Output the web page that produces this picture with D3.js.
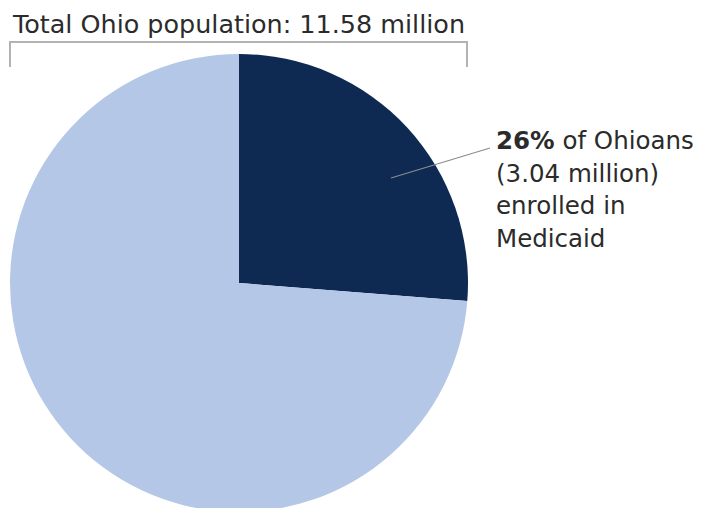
<!DOCTYPE html>
<html>
<head>
<meta charset="utf-8">
<script src="https://cdn.jsdelivr.net/npm/d3@7"></script>
<style>
  html, body { margin: 0; padding: 0; background: #fff; }
  svg { display: block; }
  text { font-family: "DejaVu Sans", "Noto Sans", sans-serif; fill: #2b2b2b; }
</style>
</head>
<body>
<svg id="chart" width="715" height="508"></svg>
<script>
// Ohio population split by Medicaid enrollment (millions)
const categories = ["Enrolled in Medicaid", "Not enrolled"];
const populationMillions = [3.04, 8.54];
const colors = ["#0f2a52", "#b4c7e6"];
const titleText = "Total Ohio population: 11.58 million";
const labelLines = [["26%", " of Ohioans"], ["(3.04 million)"], ["enrolled in"], ["Medicaid"]];

const svg = d3.select("#chart");
const cx = 239, cy = 283, radius = 229;

const pie = d3.pie().sort(null).value(d => d.value);
const arcs = pie(categories.map((c, i) => ({ name: c, value: populationMillions[i] })));
const arc = d3.arc().innerRadius(0).outerRadius(radius);

const g = svg.append("g").attr("transform", `translate(${cx},${cy})`);
g.selectAll("path")
  .data(arcs)
  .join("path")
  .attr("d", arc)
  .attr("fill", (d, i) => colors[i]);

// Leader line from inside the Medicaid slice to its label
svg.append("line")
  .attr("x1", 391).attr("y1", 178)
  .attr("x2", 490).attr("y2", 148)
  .attr("stroke", "#8c8c8c").attr("stroke-width", 1.2);

// Slice label
const label = svg.append("text").attr("font-size", 24.5);
labelLines.forEach((parts, i) => {
  parts.forEach((p, j) => {
    const t = label.append("tspan").text(p)
      .attr("font-weight", i === 0 && j === 0 ? "bold" : "normal");
    if (j === 0) t.attr("x", 496).attr("y", 149 + i * 32.7);
  });
});

// Bracket spanning the full pie
svg.append("path")
  .attr("d", `M${cx - radius},67 V42 H${cx + radius - 1} V67`)
  .attr("fill", "none").attr("stroke", "#b3b3b3").attr("stroke-width", 2);

// Title
svg.append("text")
  .attr("x", 13).attr("y", 33)
  .attr("font-size", 24)
  .attr("fill", "#333")
  .attr("textLength", 452).attr("lengthAdjust", "spacingAndGlyphs")
  .text(titleText);
</script>
</body>
</html>
